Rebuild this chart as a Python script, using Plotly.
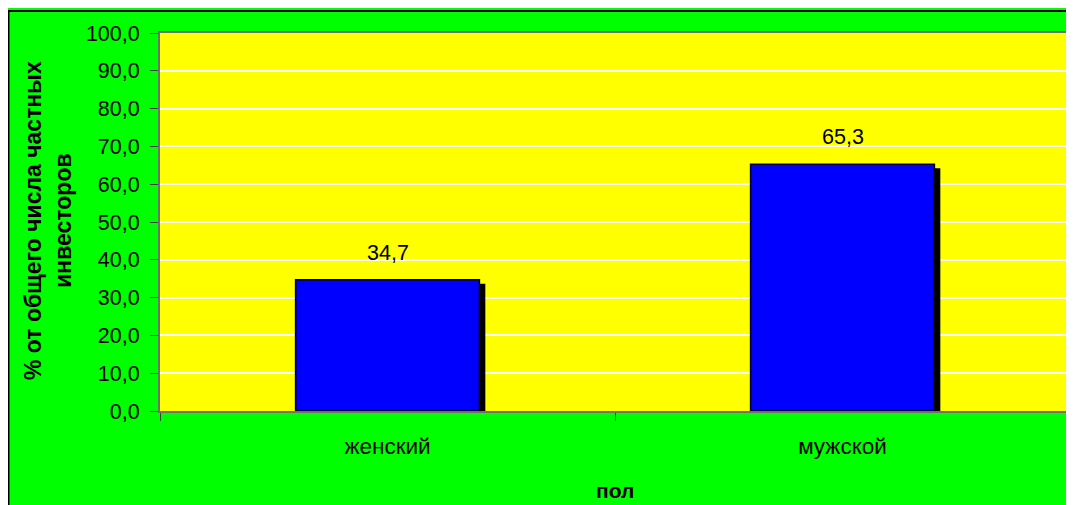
import plotly.graph_objects as go

categories = ["женский", "мужской"]
values = [34.7, 65.3]
y_ticks = [0, 10, 20, 30, 40, 50, 60, 70, 80, 90, 100]
y_title = "% от общего числа частных<br>инвесторов"
x_title = "пол"

W, H = 1066, 497
L, R, T, B = 152, 4, 25, 94
pw, ph = W - L - R, H - T - B

def px_x(p):
    return (p - L) / pw

def px_y(p):
    return (H - B - p) / ph

bar_w = 0.404
shadow_dx = 0.013   # category units
shadow_dy = 1.05    # value units
FONT = "Arial, Liberation Sans"

fig = go.Figure()
# shadow
fig.add_trace(go.Bar(
    x=categories, y=[v - shadow_dy for v in values],
    width=bar_w, offset=-bar_w / 2 + shadow_dx,
    marker=dict(color="black", line=dict(width=0)),
    hoverinfo="skip", showlegend=False,
))
# main bars
fig.add_trace(go.Bar(
    x=categories, y=values,
    width=bar_w, offset=-bar_w / 2,
    marker=dict(color="#0000FF", line=dict(color="black", width=1.5)),
    showlegend=False,
))

for c, v in zip(categories, values):
    fig.add_annotation(
        x=c, y=v, text=f"{v:.1f}".replace(".", ","),
        showarrow=False, yanchor="middle", yshift=27,
        font=dict(family=FONT, size=21.5, color="black"),
    )

# y-axis title
fig.add_annotation(
    xref="paper", yref="paper", x=px_x(40), y=px_y(213),
    text="<b>" + y_title.replace("<br>", "</b><br><b>") + "</b>",
    textangle=-90, showarrow=False, xanchor="center", yanchor="middle",
    font=dict(family=FONT, size=23, color="black"),
)
# x-axis title
fig.add_annotation(
    xref="paper", yref="paper", x=0.5, y=px_y(482),
    text="<b>" + x_title + "</b>", showarrow=False,
    xanchor="center", yanchor="middle",
    font=dict(family=FONT, size=21, color="black"),
)

# black border of the chart area (top and left edges)
fig.add_shape(type="line", xref="paper", yref="paper",
              x0=px_x(0.5), x1=px_x(W + 10), y0=px_y(3), y1=px_y(3),
              line=dict(color="black", width=2))
fig.add_shape(type="line", xref="paper", yref="paper",
              x0=px_x(0.5), x1=px_x(0.5), y0=px_y(2), y1=px_y(H + 10),
              line=dict(color="black", width=2))

fig.update_layout(
    width=W, height=H,
    margin=dict(l=L, r=R, t=T, b=B, autoexpand=False),
    paper_bgcolor="#00FF00", plot_bgcolor="#FFFF00",
    barmode="overlay",
    separators=", ",
    font=dict(family=FONT, color="black"),
)
fig.update_xaxes(
    type="category", range=[-0.5, 1.5],
    showline=True, linecolor="#707070", linewidth=2, mirror=True,
    ticks="outside", ticklen=8, tickcolor="#404040", tickwidth=1,
    tickson="boundaries", showgrid=False, ticklabelstandoff=14,
    tickfont=dict(family=FONT, size=22.5, color="black"),
    automargin=False,
)
fig.update_yaxes(
    range=[0, 100], tickvals=y_ticks, tickformat=".1f",
    showline=True, linecolor="#707070", linewidth=2, mirror=True,
    ticks="outside", ticklen=8, tickcolor="#404040", tickwidth=1,
    showgrid=True, gridcolor="white", gridwidth=1.5, zeroline=False,
    ticklabelstandoff=6,
    tickfont=dict(family=FONT, size=21.5, color="black"),
    automargin=False,
)

fig.write_html("out.html")
